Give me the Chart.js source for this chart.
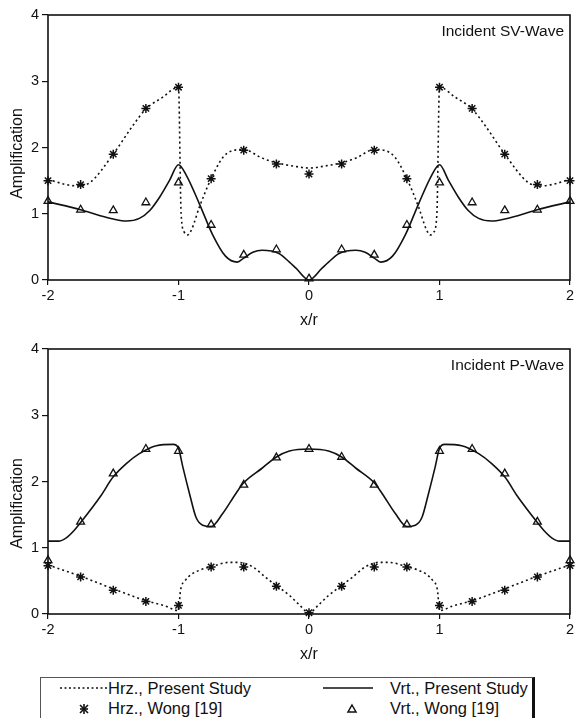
<!DOCTYPE html>
<html>
<head>
<meta charset="utf-8">
<script src="https://cdn.jsdelivr.net/npm/chart.js@4.4.1/dist/chart.umd.min.js"></script>
<style>
  html, body { margin: 0; padding: 0; background: #fff; width: 576px; height: 718px; overflow: hidden; }
  .wrap { position: absolute; left: 0; width: 576px; height: 334px; }
  #legend { position: absolute; left: 40px; top: 677px; width: 495px; height: 60px;
    border: 1px solid #555; border-right: 3px solid #111; box-sizing: border-box;
    font-family: "Liberation Sans", Arial, sans-serif; font-size: 16.5px; color: #111; }
  #legend .t { position: absolute; line-height: 18px; white-space: nowrap; }
  #legend svg { position: absolute; overflow: visible; }
</style>
</head>
<body>
<div class="wrap" style="top:0px"><canvas id="c1" width="576" height="334"></canvas></div>
<div class="wrap" style="top:334px"><canvas id="c2" width="576" height="334"></canvas></div>
<div id="legend">
  <svg style="left:19px;top:9px" width="48" height="2"><line x1="0" y1="1" x2="48" y2="1" stroke="#111" stroke-width="1.5" stroke-dasharray="2,2.5"/></svg>
  <div class="t" style="left:67px;top:1px">Hrz., Present Study</div>
  <svg style="left:282px;top:9px" width="50" height="2"><line x1="0" y1="1" x2="50" y2="1" stroke="#111" stroke-width="1.6"/></svg>
  <div class="t" style="left:349px;top:1px">Vrt., Present Study</div>
  <svg style="left:38px;top:26px" width="10" height="10"><g stroke="#111" stroke-width="1.6"><line x1="1" y1="1" x2="9" y2="9"/><line x1="9" y1="1" x2="1" y2="9"/><line x1="5" y1="0" x2="5" y2="10"/><line x1="1" y1="5" x2="9" y2="5"/></g></svg>
  <div class="t" style="left:67px;top:21px">Hrz., Wong [19]</div>
  <svg style="left:306px;top:26px" width="10" height="9"><polygon points="5,1 9,8 1,8" fill="#fff" stroke="#111" stroke-width="1.5"/></svg>
  <div class="t" style="left:349px;top:21px">Vrt., Wong [19]</div>
</div>
<script>
// ---------- Data ----------
const tickValuesX = [-2, -1, 0, 1, 2];
const tickValuesY = [0, 1, 2, 3, 4];

// Incident SV-Wave
const svHrzX = [-2, -1.86, -1.78, -1.68, -1.5, -1.35, -1.25, -1.12, -1.0, -0.98, -0.955, -0.93, -0.9, -0.84, -0.75, -0.66, -0.59, -0.5, -0.36, -0.25, -0.12, 0,
                0.12, 0.25, 0.36, 0.5, 0.59, 0.66, 0.75, 0.84, 0.9, 0.93, 0.955, 0.98, 1.0, 1.12, 1.25, 1.35, 1.5, 1.68, 1.78, 1.86, 2];
const svHrzY = [1.52, 1.44, 1.42, 1.47, 1.90, 2.33, 2.58, 2.76, 2.91, 1.00, 0.72, 0.68, 0.76, 1.10, 1.53, 1.85, 1.95, 1.97, 1.84, 1.77, 1.72, 1.69,
                1.72, 1.77, 1.84, 1.97, 1.95, 1.85, 1.53, 1.10, 0.76, 0.68, 0.72, 1.00, 2.91, 2.76, 2.58, 2.33, 1.90, 1.47, 1.42, 1.44, 1.52];
const svVrtX = [-2, -1.75, -1.6, -1.5, -1.4, -1.3, -1.22, -1.145, -1.07, -1.0, -0.94, -0.84, -0.74, -0.64, -0.55, -0.5, -0.43, -0.36, -0.23, -0.15, -0.1, 0,
                0.1, 0.15, 0.23, 0.36, 0.43, 0.5, 0.55, 0.64, 0.74, 0.84, 0.94, 1.0, 1.07, 1.145, 1.22, 1.3, 1.4, 1.5, 1.6, 1.75, 2];
const svVrtY = [1.18, 1.06, 0.97, 0.92, 0.89, 0.93, 1.05, 1.25, 1.50, 1.74, 1.58, 1.15, 0.69, 0.36, 0.27, 0.33, 0.42, 0.45, 0.40, 0.27, 0.18, 0.0,
                0.18, 0.27, 0.40, 0.45, 0.42, 0.33, 0.27, 0.36, 0.69, 1.15, 1.58, 1.74, 1.50, 1.25, 1.05, 0.93, 0.89, 0.92, 0.97, 1.06, 1.18];
const wongX = [-2, -1.75, -1.5, -1.25, -1, -0.75, -0.5, -0.25, 0, 0.25, 0.5, 0.75, 1, 1.25, 1.5, 1.75, 2];
const svWongHrz = [1.50, 1.44, 1.90, 2.59, 2.91, 1.53, 1.96, 1.75, 1.60, 1.75, 1.96, 1.53, 2.91, 2.59, 1.90, 1.44, 1.50];
const svWongVrt = [1.19, 1.06, 1.05, 1.17, 1.47, 0.83, 0.38, 0.46, 0.02, 0.46, 0.38, 0.83, 1.47, 1.17, 1.05, 1.06, 1.19];

// Incident P-Wave
const pHrzX = [-2, -1.75, -1.5, -1.25, -1.1, -1.0, -0.985, -0.95, -0.9, -0.84, -0.74, -0.61, -0.54, -0.43, -0.33, -0.25, -0.15, -0.08, 0,
               0.08, 0.15, 0.25, 0.33, 0.43, 0.54, 0.61, 0.74, 0.84, 0.9, 0.95, 0.985, 1.0, 1.1, 1.25, 1.5, 1.75, 2];
const pHrzY = [0.74, 0.57, 0.38, 0.20, 0.12, 0.05, 0.35, 0.50, 0.60, 0.66, 0.72, 0.78, 0.78, 0.71, 0.55, 0.43, 0.28, 0.15, 0.02,
               0.15, 0.28, 0.43, 0.55, 0.71, 0.78, 0.78, 0.72, 0.66, 0.60, 0.50, 0.35, 0.05, 0.12, 0.20, 0.38, 0.57, 0.74];
const pVrtX = [-2, -1.92, -1.86, -1.8, -1.75, -1.6, -1.5, -1.4, -1.3, -1.17, -1.04, -1.0, -0.967, -0.916, -0.866, -0.815, -0.75, -0.66, -0.56, -0.5, -0.36, -0.25, -0.15, 0,
               0.15, 0.25, 0.36, 0.5, 0.56, 0.66, 0.75, 0.815, 0.866, 0.916, 0.967, 1.0, 1.04, 1.17, 1.3, 1.4, 1.5, 1.6, 1.75, 1.8, 1.86, 1.92, 2];
const pVrtY = [1.10, 1.10, 1.15, 1.26, 1.38, 1.77, 2.07, 2.27, 2.42, 2.54, 2.56, 2.50, 2.22, 1.82, 1.46, 1.34, 1.32, 1.52, 1.82, 1.98, 2.20, 2.37, 2.46, 2.49,
               2.46, 2.37, 2.20, 1.98, 1.82, 1.52, 1.32, 1.34, 1.46, 1.82, 2.22, 2.50, 2.56, 2.54, 2.42, 2.27, 2.07, 1.77, 1.38, 1.26, 1.15, 1.10, 1.10];
const pWongHrz = [0.73, 0.56, 0.36, 0.19, 0.13, 0.71, 0.71, 0.42, 0.02, 0.42, 0.71, 0.71, 0.13, 0.19, 0.36, 0.56, 0.73];
const pWongVrt = [0.81, 1.39, 2.12, 2.49, 2.46, 1.35, 1.95, 2.36, 2.49, 2.37, 1.95, 1.35, 2.46, 2.49, 2.12, 1.39, 0.81];

const FONT = '"Liberation Sans", Arial, sans-serif';
const pts = (xs, ys) => xs.map((x, i) => ({ x: x, y: ys[i] }));

const framePlugin = {
  id: 'frame',
  afterDraw(chart, args, opts) {
    const { ctx, chartArea: a } = chart;
    ctx.save();
    ctx.strokeStyle = '#111';
    ctx.lineWidth = 1.6;
    ctx.strokeRect(a.left, a.top, a.right - a.left, a.bottom - a.top);
    ctx.fillStyle = '#111';
    ctx.font = '15.5px ' + FONT;
    ctx.textAlign = 'right';
    ctx.textBaseline = 'middle';
    ctx.fillText(opts.label, a.right - 6, a.top + 17);
    ctx.translate(18, (a.top + a.bottom) / 2 + opts.yOff);
    ctx.rotate(-Math.PI / 2);
    ctx.textAlign = 'center';
    ctx.font = '16px ' + FONT;
    ctx.fillText('Amplification', 0, 0);
    ctx.restore();
  }
};

function makeChart(id, label, yOff, hrzX, hrzY, vrtX, vrtY, wHrz, wVrt) {
  return new Chart(document.getElementById(id), {
    type: 'scatter',
    data: {
      datasets: [
        { label: 'Hrz., Present Study', data: pts(hrzX, hrzY), showLine: true, borderColor: '#111', borderWidth: 1.6,
          borderDash: [2, 3], pointRadius: 0, cubicInterpolationMode: 'monotone', fill: false },
        { label: 'Vrt., Present Study', data: pts(vrtX, vrtY), showLine: true, borderColor: '#111', borderWidth: 1.6,
          pointRadius: 0, cubicInterpolationMode: 'monotone', fill: false },
        { label: 'Hrz., Wong [19]', data: pts(wongX, wHrz), showLine: false, pointStyle: 'star', pointRadius: 4.5,
          borderColor: '#111', backgroundColor: '#111', pointBorderWidth: 1.5, clip: false },
        { label: 'Vrt., Wong [19]', data: pts(wongX, wVrt), showLine: false, pointStyle: 'triangle', pointRadius: 4.5,
          borderColor: '#111', backgroundColor: '#fff', pointBorderWidth: 1.3, clip: false }
      ]
    },
    options: {
      responsive: false,
      animation: false,
      layout: { padding: { top: 15, right: 3, left: 0, bottom: 0 } },
      plugins: { legend: { display: false }, tooltip: { enabled: false }, frame: { label: label, yOff: yOff } },
      scales: {
        x: {
          type: 'linear', min: -2, max: 2,
          afterBuildTicks: s => { s.ticks = tickValuesX.map(v => ({ value: v })); },
          ticks: { color: '#111', font: { family: FONT, size: 14.5 }, padding: 2, maxRotation: 0 },
          grid: { drawOnChartArea: false, drawTicks: true, tickLength: 5, color: '#111', lineWidth: 1.2 },
          border: { display: false },
          title: { display: true, text: 'x/r', color: '#111', font: { family: FONT, size: 16 }, padding: { top: 4, bottom: 4 } },
          afterFit: s => { s.height = 54; s.paddingLeft = 0; s.paddingRight = 0; }
        },
        y: {
          type: 'linear', min: 0, max: 4,
          afterBuildTicks: s => { s.ticks = tickValuesY.map(v => ({ value: v })); },
          ticks: { color: '#111', font: { family: FONT, size: 14.5 }, padding: 3 },
          grid: { drawOnChartArea: false, drawTicks: true, tickLength: 6, color: '#111', lineWidth: 1.2 },
          border: { display: false },
          afterFit: s => { s.width = 48; }
        }
      }
    },
    plugins: [framePlugin]
  });
}

makeChart('c1', 'Incident SV-Wave', 6, svHrzX, svHrzY, svVrtX, svVrtY, svWongHrz, svWongVrt);
makeChart('c2', 'Incident P-Wave', 22, pHrzX, pHrzY, pVrtX, pVrtY, pWongHrz, pWongVrt);
</script>
</body>
</html>
